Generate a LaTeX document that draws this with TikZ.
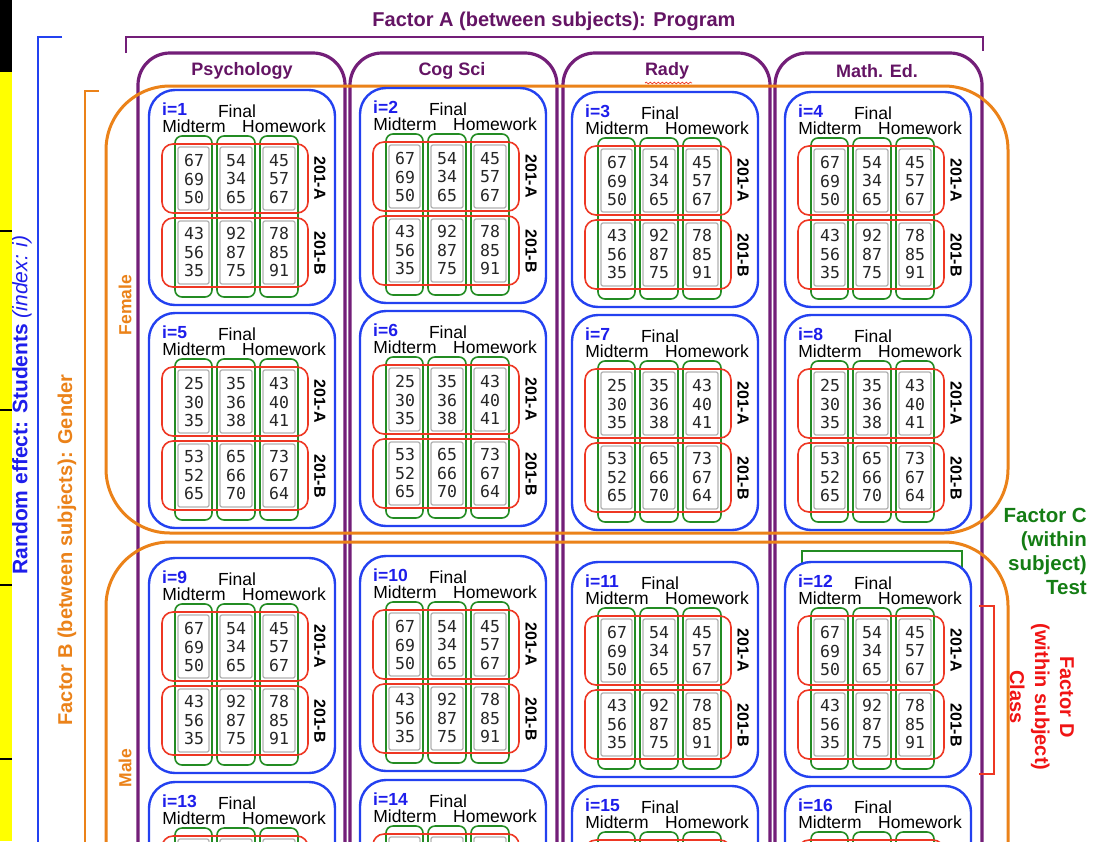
\documentclass[tikz,border=0pt]{standalone}
\usepackage{fontspec}
\setmainfont{Liberation Sans}
\newfontfamily\numfont{DejaVu Sans Mono}
\usetikzlibrary{decorations.pathmorphing}

\definecolor{cblue}{RGB}{35,65,240}
\definecolor{tblue}{RGB}{30,30,235}
\definecolor{cgreen}{RGB}{35,140,35}
\definecolor{tgreen}{RGB}{20,125,20}
\definecolor{cred}{RGB}{238,55,35}
\definecolor{tred}{RGB}{240,20,20}
\definecolor{corange}{RGB}{235,130,25}
\definecolor{cpurple}{RGB}{115,30,120}
\definecolor{tpurple}{RGB}{100,20,100}
\definecolor{cyellow}{RGB}{255,255,0}

\tikzset{
  stud/.style={draw=cblue, line width=2.4pt, rounded corners=26pt, fill=white},
  testcol/.style={draw=cgreen, line width=1.6pt, rounded corners=7pt},
  classrow/.style={draw=cred, line width=1.6pt, rounded corners=11pt},
  cellbox/.style={draw=gray!60, line width=1.3pt, rounded corners=2pt},
  prog/.style={draw=cpurple, line width=3.2pt, rounded corners=32pt},
  gend/.style={draw=corange, line width=3pt, rounded corners=64pt},
  num/.style={font=\numfont\fontsize{16.5}{18.5}\selectfont, text=black!85, align=center, inner sep=0pt},
  hdr/.style={font=\fontsize{17.5}{17.5}\selectfont, inner sep=0pt},
  idx/.style={font=\bfseries\fontsize{17.5}{17.5}\selectfont, text=tblue, inner sep=0pt},
  cls/.style={font=\bfseries\fontsize{16}{16}\selectfont, rotate=-90, inner sep=0pt},
  progtitle/.style={font=\bfseries\fontsize{18}{18}\selectfont, text=tpurple, inner sep=0pt},
  bracketline/.style={line width=2.6pt},
}

\newcommand\classlabels[1]{%
  \node[cls] (#1ca) at (171,88) {201-A};
  \node[cls] (#1cb) at (171,163) {201-B};}
\newcommand\dataA[1]{%
  \node[num] (#1a1) at (45,89) {67\\69\\50};
  \node[num] (#1a2) at (87,89) {54\\34\\65};
  \node[num] (#1a3) at (130,89) {45\\57\\67};
  \node[num] (#1b1) at (45,162) {43\\56\\35};
  \node[num] (#1b2) at (87,162) {92\\87\\75};
  \node[num] (#1b3) at (130,162) {78\\85\\91};
  \classlabels{#1}}
\newcommand\dataB[1]{%
  \node[num] (#1a1) at (45,89) {25\\30\\35};
  \node[num] (#1a2) at (87,89) {35\\36\\38};
  \node[num] (#1a3) at (130,89) {43\\40\\41};
  \node[num] (#1b1) at (45,162) {53\\52\\65};
  \node[num] (#1b2) at (87,162) {65\\66\\70};
  \node[num] (#1b3) at (130,162) {73\\67\\64};
  \classlabels{#1}}
\newcommand\dataNone[1]{}

\newcommand\stubox[4]{%
\begin{scope}[shift={(#1,#2)}]
  \draw[stud] (0,0) rectangle (186,215);
  \foreach \cx/\cw in {26/63,68/106,111/149}{
    \draw[cellbox] (\cx+3,57) rectangle (\cw-3,120);
    \draw[cellbox] (\cx+3,131) rectangle (\cw-3,194);
    \draw[testcol] (\cx,46) rectangle (\cw,207);}
  \draw[classrow] (13,54) rectangle (159,123);
  \draw[classrow] (13,128) rectangle (159,197);
  \node[idx, anchor=west] (s#3id) at (13,19) {i=#3};
  \node[hdr] (s#3fin) at (88,21) {Final};
  \node[hdr] (s#3mid) at (45,36) {Midterm};
  \node[hdr] (s#3hw) at (135,36) {Homework};
  #4{s#3}
\end{scope}}

\begin{document}
\begin{tikzpicture}[x=1pt,y=-1pt]
\useasboundingbox (0,0) rectangle (1099,841);
\clip (0,0) rectangle (1099,841);
\fill[white] (0,0) rectangle (1099,841);

% left strip
\fill[black] (0,0) rectangle (12,72);
\fill[cyellow] (0,72) rectangle (12,841);
\foreach \yy in {231,410,585,759}{\draw[black, line width=1.2pt] (0,\yy) -- (12,\yy);}

% brackets
\draw[cblue, bracketline] (62,37) -- (38,37) -- (38,860);
\draw[corange, bracketline] (99,91) -- (85,91) -- (85,860);
\draw[cpurple, bracketline] (126,53) -- (126,37) -- (983,37) -- (983,51);

% program columns
\draw[prog] (138,53) rectangle (345,900);
\draw[prog] (350,53) rectangle (557,900);
\draw[prog] (563,53) rectangle (770,900);
\draw[prog] (775,53) rectangle (982,900);

% gender regions
\draw[gend] (106,86) rectangle (1008,533);
\draw[gend] (106,542) rectangle (1008,920);

% factor C highlight
\draw[cgreen, line width=2pt] (802,600) -- (802,551) -- (962,551) -- (962,600);

% student boxes
\stubox{149}{90}{1}{\dataA}
\stubox{360}{88}{2}{\dataA}
\stubox{572}{92}{3}{\dataA}
\stubox{785}{92}{4}{\dataA}
\stubox{149}{313}{5}{\dataB}
\stubox{360}{311}{6}{\dataB}
\stubox{572}{315}{7}{\dataB}
\stubox{785}{315}{8}{\dataB}
\stubox{149}{558}{9}{\dataA}
\stubox{360}{556}{10}{\dataA}
\stubox{572}{562}{11}{\dataA}
\stubox{785}{562}{12}{\dataA}
\stubox{149}{782}{13}{\dataNone}
\stubox{360}{780}{14}{\dataNone}
\stubox{572}{786}{15}{\dataNone}
\stubox{785}{786}{16}{\dataNone}

% factor D bracket
\draw[cred, line width=2pt] (979,606) -- (994,606) -- (994,774) -- (979,774);

% titles
\node[font=\bfseries\fontsize{20}{20}\selectfont, text=tpurple, inner sep=0pt] (facA) at (554,21) {Factor A (between subjects): Program};
\node[progtitle] (psy) at (242,71) {Psychology};
\node[progtitle] (cog) at (452,71) {Cog Sci};
\node[progtitle] (rady) at (667,71) {Rady};
\node[progtitle] (math) at (877,71) {Math. Ed.};
\draw[cred, line width=0.7pt, decorate, decoration={snake, amplitude=0.9pt, segment length=4pt}] (645,83) -- (692,83);

\node[rotate=90, text=tblue, inner sep=0pt, font=\fontsize{21}{21}\selectfont] (rand) at (22,405) {\bfseries Random effect: Students \mdseries\itshape (index: i)};
\node[rotate=90, text=corange, inner sep=0pt, font=\bfseries\fontsize{20}{20}\selectfont] (facB) at (67,550) {Factor B (between subjects): Gender};
\node[rotate=90, text=corange, inner sep=0pt, font=\bfseries\fontsize{17.5}{17.5}\selectfont] (fem) at (125,305) {Female};
\node[rotate=90, text=corange, inner sep=0pt, font=\bfseries\fontsize{17.5}{17.5}\selectfont] (male) at (125,768) {Male};

\node[anchor=east, align=right, text=tgreen, inner sep=0pt, font=\bfseries\fontsize{20.5}{24}\selectfont] (facC) at (1087,551) {Factor C\\(within\\subject)\\Test};
\node[rotate=-90, align=center, text=tred, inner sep=0pt, font=\bfseries\fontsize{20}{25}\selectfont] (facD) at (1042,697) {Factor D\\(within subject)\\Class};
\end{tikzpicture}
\end{document}
